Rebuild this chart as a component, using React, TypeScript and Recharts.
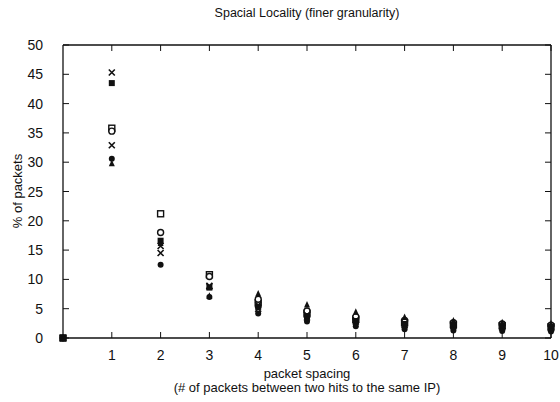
import { ScatterChart, Scatter, XAxis, YAxis } from "recharts";

const spacing = [0, 1, 2, 3, 4, 5, 6, 7, 8, 9, 10];
const xTicks = [1, 2, 3, 4, 5, 6, 7, 8, 9, 10];
const yTicks = [0, 5, 10, 15, 20, 25, 30, 35, 40, 45, 50];

// one list per trace
const openSquare = [0, 35.8, 21.2, 10.8, 6.0, 4.2, 3.2, 2.6, 2.3, 2.1, 1.9];
const openCircle = [0, 35.3, 18.0, 10.5, 6.6, 4.6, 3.6, 3.0, 2.6, 2.4, 2.2];
const bigCross = [0, 45.3, 14.5, 8.8, 5.0, 3.5, 2.8, 2.2, 2.0, 1.8, 1.6];
const filledSquare = [0, 43.5, 16.6, 8.6, 5.3, 3.7, 2.9, 2.4, 2.1, 1.9, 1.7];
const smallCross = [0, 32.9, 15.7, 8.9, 5.6, 3.9, 3.0, 2.5, 2.2, 2.0, 1.8];
const filledCircle = [0, 30.6, 12.5, 7.0, 4.2, 2.8, 2.0, 1.5, 1.3, 1.2, 1.1];
const triangle = [0, 29.8, 16.2, 7.2, 7.6, 5.7, 4.5, 3.6, 3.0, 2.7, 2.5];

const series = [
  { name: "a", values: openSquare, kind: "osq" },
  { name: "b", values: openCircle, kind: "oci" },
  { name: "c", values: bigCross, kind: "x" },
  { name: "d", values: filledSquare, kind: "fsq" },
  { name: "e", values: smallCross, kind: "x" },
  { name: "f", values: filledCircle, kind: "fci" },
  { name: "g", values: triangle, kind: "tri" },
];

const toPoints = (vals: number[]) => spacing.map((x, i) => ({ x, y: vals[i] }));

const FONT = "'Liberation Sans', Arial, Helvetica, sans-serif";
const INK = "#111";

const Marker = (props: any) => {
  const { cx, cy, kind } = props;
  if (cx == null || cy == null) return null;
  const r = 3;
  switch (kind) {
    case "osq":
      return <rect x={cx - r} y={cy - r} width={2 * r} height={2 * r} fill="#fff" stroke={INK} strokeWidth={1.4} />;
    case "fsq":
      return <rect x={cx - r} y={cy - r} width={2 * r} height={2 * r} fill={INK} />;
    case "oci":
      return <circle cx={cx} cy={cy} r={r} fill="#fff" stroke={INK} strokeWidth={1.4} />;
    case "fci":
      return <circle cx={cx} cy={cy} r={r} fill={INK} />;
    case "tri":
      return <path d={`M${cx},${cy - r - 0.5} L${cx + r},${cy + r} L${cx - r},${cy + r} Z`} fill={INK} />;
    case "none":
      return <g />;
    default:
      return (
        <path
          d={`M${cx - r},${cy - r} L${cx + r},${cy + r} M${cx + r},${cy - r} L${cx - r},${cy + r}`}
          stroke={INK}
          strokeWidth={1.6}
        />
      );
  }
};

const BottomTick = (props: any) => {
  const { x, y, payload } = props;
  return (
    <g>
      <line x1={x} y1={y} x2={x} y2={y - 6} stroke={INK} />
      <text x={x} y={y + 22} textAnchor="middle" fontSize={14} fill={INK} fontFamily={FONT}>
        {payload.value}
      </text>
    </g>
  );
};

const TopTick = (props: any) => {
  const { x, y } = props;
  return <line x1={x} y1={y} x2={x} y2={y + 6} stroke={INK} />;
};

const LeftTick = (props: any) => {
  const { x, y, payload } = props;
  return (
    <g>
      <line x1={x} y1={y} x2={x + 6} y2={y} stroke={INK} />
      <text x={x - 20} y={y} dy="0.36em" textAnchor="end" fontSize={14} fill={INK} fontFamily={FONT}>
        {payload.value}
      </text>
    </g>
  );
};

const RightTick = (props: any) => {
  const { x, y } = props;
  return <line x1={x} y1={y} x2={x - 6} y2={y} stroke={INK} />;
};

export default function App() {
  return (
    <div style={{ position: "absolute", left: 0, top: 0, width: 560, height: 402, background: "#fff" }}>
      <div
        style={{
          position: "absolute",
          left: 63,
          width: 488,
          top: 6,
          textAlign: "center",
          fontFamily: FONT,
          fontSize: 12.5,
          color: INK,
        }}
      >
        Spacial Locality (finer granularity)
      </div>
      <ScatterChart width={560} height={402} margin={{ top: 44, right: 8, bottom: 0, left: 0 }}>
        <XAxis
          xAxisId="bottom"
          dataKey="x"
          type="number"
          domain={[0, 10]}
          ticks={xTicks}
          height={64}
          tickSize={0}
          tickMargin={0}
          tickLine={false}
          axisLine={{ stroke: INK, strokeWidth: 1.3 }}
          tick={<BottomTick />}
          label={{
            content: () => (
              <text textAnchor="middle" fontSize={13} fill={INK} fontFamily={FONT}>
                <tspan x={307} y={378}>packet spacing</tspan>
                <tspan x={307} y={392}>(# of packets between two hits to the same IP)</tspan>
              </text>
            ),
          }}
        />
        <XAxis
          xAxisId="top"
          orientation="top"
          dataKey="x"
          type="number"
          domain={[0, 10]}
          ticks={xTicks}
          height={1}
          tickSize={0}
          tickMargin={0}
          tickLine={false}
          axisLine={{ stroke: INK, strokeWidth: 1.3 }}
          tick={<TopTick />}
        />
        <YAxis
          yAxisId="left"
          dataKey="y"
          type="number"
          domain={[0, 50]}
          ticks={yTicks}
          width={63}
          tickSize={0}
          tickMargin={0}
          tickLine={false}
          axisLine={{ stroke: INK, strokeWidth: 1.3 }}
          tick={<LeftTick />}
          label={{
            content: () => (
              <text
                x={22}
                y={191}
                textAnchor="middle"
                fontSize={13}
                fill={INK}
                fontFamily={FONT}
                transform="rotate(-90 22 191)"
              >
                % of packets
              </text>
            ),
          }}
        />
        <YAxis
          yAxisId="right"
          orientation="right"
          dataKey="y"
          type="number"
          domain={[0, 50]}
          ticks={yTicks}
          width={1}
          tickSize={0}
          tickMargin={0}
          tickLine={false}
          axisLine={{ stroke: INK, strokeWidth: 1.3 }}
          tick={<RightTick />}
        />
        {/* invisible copy bound to the mirror axes so they get drawn */}
        <Scatter
          name="frame"
          xAxisId="top"
          yAxisId="right"
          data={toPoints(openSquare)}
          isAnimationActive={false}
          shape={(p: any) => <Marker {...p} kind="none" />}
        />
        {series.map((s) => (
          <Scatter
            key={s.name}
            name={s.name}
            xAxisId="bottom"
            yAxisId="left"
            data={toPoints(s.values)}
            isAnimationActive={false}
            shape={(p: any) => <Marker {...p} kind={s.kind} />}
          />
        ))}
      </ScatterChart>
    </div>
  );
}
